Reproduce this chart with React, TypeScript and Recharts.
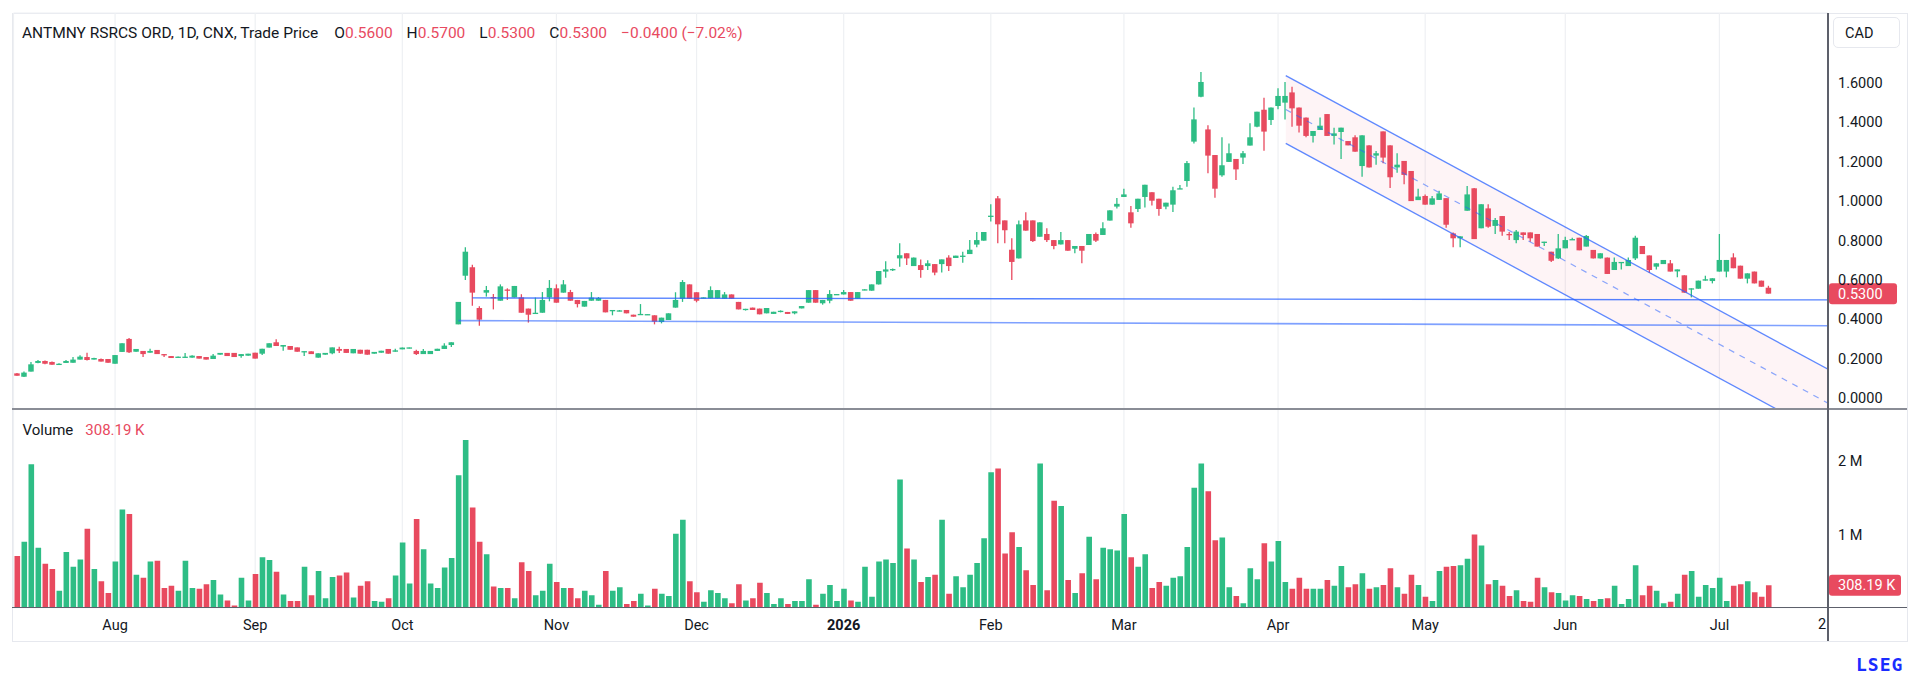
import React from 'react';
import { ComposedChart, Bar, XAxis, YAxis, CartesianGrid, ReferenceLine, Area, Cell } from 'recharts';

const GREEN = '#2ebd85';
const RED = '#e84a5f';
const BLUE = '#2962ff';
const TEXT = '#131722';
const GRID = '#eef0f3';
const FONT = 'Roboto, "Noto Sans", sans-serif';

// OHLC per trading day (CAD), Jul 2025 - Jul 2026
const opens = [
  0.125, 0.108, 0.134, 0.178, 0.188, 0.183, 0.170, 0.178, 0.179, 0.195,
  0.208, 0.195, 0.198, 0.198, 0.174, 0.234, 0.300, 0.235, 0.239, 0.230,
  0.244, 0.223, 0.213, 0.205, 0.205, 0.205, 0.213, 0.208, 0.198, 0.220,
  0.229, 0.229, 0.213, 0.215, 0.230, 0.225, 0.256, 0.283, 0.261, 0.264,
  0.257, 0.235, 0.237, 0.205, 0.220, 0.227, 0.249, 0.249, 0.227, 0.245,
  0.245, 0.225, 0.230, 0.249, 0.235, 0.247, 0.252, 0.239, 0.223, 0.223,
  0.239, 0.249, 0.269, 0.374, 0.621, 0.664, 0.457, 0.535, 0.513, 0.494,
  0.551, 0.511, 0.511, 0.454, 0.427, 0.433, 0.511, 0.557, 0.535, 0.538,
  0.498, 0.464, 0.494, 0.494, 0.498, 0.442, 0.440, 0.447, 0.423, 0.423,
  0.423, 0.420, 0.386, 0.396, 0.459, 0.504, 0.577, 0.537, 0.506, 0.506,
  0.506, 0.504, 0.526, 0.488, 0.447, 0.459, 0.454, 0.430, 0.427, 0.437,
  0.437, 0.430, 0.455, 0.484, 0.548, 0.481, 0.494, 0.523, 0.526, 0.538,
  0.504, 0.547, 0.545, 0.577, 0.642, 0.650, 0.709, 0.735, 0.670, 0.675,
  0.670, 0.680, 0.680, 0.713, 0.711, 0.720, 0.731, 0.779, 0.799, 0.921,
  1.014, 0.902, 0.753, 0.709, 0.902, 0.902, 0.819, 0.833, 0.802, 0.780,
  0.802, 0.758, 0.772, 0.777, 0.833, 0.828, 0.901, 0.972, 1.021, 0.943,
  0.960, 1.021, 1.045, 1.012, 0.972, 0.982, 1.061, 1.102, 1.302, 1.530,
  1.364, 1.234, 1.131, 1.199, 1.214, 1.221, 1.282, 1.378, 1.464, 1.412,
  1.483, 1.500, 1.552, 1.475, 1.424, 1.331, 1.361, 1.442, 1.331, 1.351,
  1.305, 1.324, 1.178, 1.283, 1.231, 1.354, 1.283, 1.171, 1.204, 1.153,
  1.005, 1.026, 0.982, 1.006, 1.015, 0.836, 0.811, 0.951, 1.065, 0.862,
  0.963, 0.874, 0.924, 0.833, 0.802, 0.841, 0.841, 0.833, 0.789, 0.743,
  0.709, 0.760, 0.802, 0.814, 0.769, 0.752, 0.709, 0.713, 0.650, 0.687,
  0.670, 0.709, 0.772, 0.724, 0.667, 0.680, 0.684, 0.643, 0.623, 0.552,
  0.555, 0.596, 0.594, 0.642, 0.642, 0.714, 0.672, 0.606, 0.642, 0.596,
  0.560,
];
const highs = [
  0.127, 0.135, 0.183, 0.193, 0.190, 0.185, 0.176, 0.193, 0.208, 0.217,
  0.230, 0.205, 0.200, 0.198, 0.218, 0.278, 0.305, 0.249, 0.239, 0.250,
  0.244, 0.223, 0.213, 0.211, 0.228, 0.217, 0.213, 0.208, 0.223, 0.229,
  0.229, 0.229, 0.223, 0.225, 0.230, 0.250, 0.278, 0.298, 0.269, 0.264,
  0.257, 0.238, 0.237, 0.227, 0.229, 0.257, 0.260, 0.249, 0.249, 0.245,
  0.245, 0.234, 0.240, 0.249, 0.250, 0.256, 0.257, 0.245, 0.249, 0.239,
  0.250, 0.278, 0.283, 0.488, 0.765, 0.677, 0.466, 0.569, 0.528, 0.577,
  0.557, 0.569, 0.527, 0.454, 0.510, 0.538, 0.599, 0.577, 0.599, 0.549,
  0.498, 0.493, 0.538, 0.513, 0.498, 0.447, 0.447, 0.447, 0.423, 0.477,
  0.426, 0.420, 0.408, 0.430, 0.537, 0.599, 0.577, 0.537, 0.511, 0.567,
  0.548, 0.538, 0.526, 0.488, 0.453, 0.459, 0.454, 0.457, 0.438, 0.445,
  0.437, 0.440, 0.467, 0.548, 0.548, 0.498, 0.548, 0.528, 0.548, 0.538,
  0.538, 0.552, 0.577, 0.645, 0.694, 0.658, 0.786, 0.735, 0.713, 0.704,
  0.700, 0.680, 0.704, 0.725, 0.723, 0.743, 0.802, 0.843, 0.843, 0.984,
  1.026, 0.902, 0.811, 0.902, 0.943, 0.902, 0.892, 0.862, 0.802, 0.843,
  0.802, 0.772, 0.772, 0.833, 0.841, 0.892, 0.953, 1.016, 1.063, 0.975,
  1.012, 1.083, 1.045, 1.012, 0.992, 1.073, 1.082, 1.204, 1.475, 1.656,
  1.385, 1.234, 1.324, 1.293, 1.214, 1.254, 1.395, 1.454, 1.525, 1.475,
  1.573, 1.605, 1.581, 1.475, 1.424, 1.356, 1.425, 1.442, 1.373, 1.373,
  1.305, 1.334, 1.334, 1.283, 1.254, 1.354, 1.283, 1.243, 1.204, 1.153,
  1.063, 1.034, 1.026, 1.053, 1.015, 0.841, 0.821, 1.077, 1.067, 0.984,
  0.984, 0.914, 0.924, 0.843, 0.853, 0.841, 0.841, 0.833, 0.794, 0.743,
  0.833, 0.819, 0.814, 0.814, 0.828, 0.752, 0.735, 0.713, 0.714, 0.691,
  0.714, 0.824, 0.772, 0.724, 0.684, 0.701, 0.701, 0.653, 0.623, 0.557,
  0.596, 0.621, 0.608, 0.833, 0.701, 0.735, 0.672, 0.633, 0.642, 0.596,
  0.570,
];
const lows = [
  0.113, 0.106, 0.134, 0.176, 0.172, 0.169, 0.168, 0.178, 0.179, 0.195,
  0.190, 0.195, 0.185, 0.179, 0.174, 0.234, 0.228, 0.235, 0.208, 0.230,
  0.223, 0.208, 0.203, 0.205, 0.205, 0.205, 0.200, 0.195, 0.198, 0.220,
  0.213, 0.208, 0.205, 0.215, 0.200, 0.218, 0.256, 0.264, 0.240, 0.245,
  0.235, 0.213, 0.223, 0.205, 0.220, 0.222, 0.228, 0.229, 0.227, 0.225,
  0.220, 0.225, 0.230, 0.225, 0.235, 0.247, 0.252, 0.218, 0.223, 0.223,
  0.239, 0.249, 0.259, 0.374, 0.599, 0.469, 0.367, 0.515, 0.450, 0.494,
  0.498, 0.511, 0.433, 0.383, 0.427, 0.433, 0.491, 0.484, 0.535, 0.494,
  0.460, 0.464, 0.494, 0.494, 0.435, 0.420, 0.440, 0.430, 0.413, 0.423,
  0.423, 0.374, 0.379, 0.396, 0.459, 0.488, 0.504, 0.486, 0.506, 0.506,
  0.506, 0.504, 0.504, 0.450, 0.444, 0.447, 0.425, 0.430, 0.427, 0.435,
  0.427, 0.425, 0.455, 0.484, 0.484, 0.474, 0.481, 0.523, 0.526, 0.494,
  0.504, 0.547, 0.545, 0.577, 0.611, 0.645, 0.667, 0.675, 0.670, 0.611,
  0.650, 0.623, 0.637, 0.645, 0.711, 0.687, 0.731, 0.765, 0.799, 0.896,
  0.786, 0.786, 0.599, 0.709, 0.850, 0.792, 0.819, 0.792, 0.755, 0.780,
  0.748, 0.735, 0.684, 0.777, 0.792, 0.828, 0.901, 0.963, 1.021, 0.865,
  0.945, 0.967, 0.977, 0.926, 0.958, 0.945, 1.061, 1.073, 1.293, 1.527,
  1.141, 1.017, 1.124, 1.199, 1.107, 1.188, 1.282, 1.375, 1.256, 1.386,
  1.466, 1.415, 1.378, 1.348, 1.324, 1.297, 1.361, 1.331, 1.288, 1.214,
  1.283, 1.251, 1.124, 1.171, 1.185, 1.192, 1.067, 1.144, 1.085, 1.000,
  1.005, 0.982, 0.982, 1.006, 0.865, 0.765, 0.765, 0.951, 0.807, 0.862,
  0.865, 0.833, 0.824, 0.802, 0.786, 0.802, 0.794, 0.769, 0.772, 0.691,
  0.706, 0.760, 0.802, 0.750, 0.769, 0.709, 0.709, 0.630, 0.650, 0.653,
  0.670, 0.701, 0.731, 0.636, 0.653, 0.680, 0.642, 0.613, 0.535, 0.511,
  0.555, 0.596, 0.582, 0.642, 0.613, 0.659, 0.606, 0.582, 0.582, 0.565,
  0.530,
];
const closes = [
  0.113, 0.129, 0.171, 0.188, 0.174, 0.169, 0.174, 0.188, 0.195, 0.210,
  0.193, 0.203, 0.185, 0.179, 0.218, 0.278, 0.232, 0.249, 0.223, 0.239,
  0.223, 0.217, 0.203, 0.210, 0.210, 0.215, 0.200, 0.195, 0.215, 0.229,
  0.213, 0.208, 0.223, 0.225, 0.200, 0.250, 0.278, 0.264, 0.269, 0.245,
  0.235, 0.238, 0.223, 0.227, 0.229, 0.257, 0.240, 0.229, 0.249, 0.225,
  0.220, 0.234, 0.240, 0.225, 0.242, 0.256, 0.257, 0.223, 0.239, 0.239,
  0.250, 0.266, 0.283, 0.488, 0.743, 0.535, 0.398, 0.548, 0.506, 0.567,
  0.546, 0.569, 0.433, 0.423, 0.433, 0.498, 0.559, 0.484, 0.577, 0.494,
  0.477, 0.493, 0.510, 0.508, 0.435, 0.447, 0.445, 0.430, 0.413, 0.427,
  0.426, 0.388, 0.408, 0.430, 0.498, 0.589, 0.504, 0.494, 0.511, 0.548,
  0.548, 0.526, 0.504, 0.450, 0.453, 0.447, 0.425, 0.457, 0.438, 0.443,
  0.427, 0.440, 0.467, 0.548, 0.484, 0.498, 0.528, 0.528, 0.538, 0.494,
  0.538, 0.552, 0.577, 0.645, 0.653, 0.655, 0.725, 0.709, 0.713, 0.650,
  0.684, 0.637, 0.704, 0.670, 0.723, 0.723, 0.753, 0.802, 0.843, 0.926,
  0.882, 0.852, 0.691, 0.882, 0.850, 0.797, 0.892, 0.802, 0.772, 0.802,
  0.748, 0.772, 0.748, 0.833, 0.799, 0.862, 0.953, 0.986, 1.034, 0.887,
  1.012, 1.083, 1.002, 0.960, 0.992, 1.055, 1.065, 1.193, 1.415, 1.605,
  1.231, 1.063, 1.182, 1.243, 1.161, 1.243, 1.324, 1.454, 1.353, 1.475,
  1.534, 1.534, 1.471, 1.383, 1.331, 1.356, 1.383, 1.331, 1.344, 1.373,
  1.283, 1.251, 1.334, 1.171, 1.243, 1.221, 1.121, 1.185, 1.133, 1.000,
  1.023, 0.982, 1.014, 1.039, 0.880, 0.811, 0.821, 1.034, 0.807, 0.984,
  0.870, 0.904, 0.845, 0.828, 0.845, 0.828, 0.811, 0.769, 0.794, 0.697,
  0.760, 0.802, 0.807, 0.750, 0.823, 0.709, 0.735, 0.630, 0.691, 0.691,
  0.701, 0.814, 0.731, 0.650, 0.684, 0.701, 0.642, 0.653, 0.535, 0.557,
  0.596, 0.603, 0.608, 0.701, 0.701, 0.659, 0.606, 0.633, 0.582, 0.565,
  0.530,
];
// Volume in millions of shares
const volumesM = [
  0.707, 0.90, 1.96, 0.82, 0.60, 0.53, 0.23, 0.76, 0.56, 0.66,
  1.08, 0.53, 0.36, 0.20, 0.63, 1.34, 1.28, 0.45, 0.41, 0.63,
  0.64, 0.27, 0.30, 0.23, 0.64, 0.27, 0.26, 0.32, 0.38, 0.18,
  0.10, 0.03, 0.41, 0.10, 0.46, 0.69, 0.65, 0.49, 0.18, 0.09,
  0.09, 0.56, 0.17, 0.50, 0.13, 0.42, 0.44, 0.48, 0.14, 0.30,
  0.36, 0.09, 0.08, 0.13, 0.44, 0.89, 0.33, 1.21, 0.80, 0.33,
  0.27, 0.55, 0.68, 1.81, 2.29, 1.37, 0.90, 0.73, 0.29, 0.27,
  0.27, 0.13, 0.62, 0.50, 0.17, 0.23, 0.60, 0.35, 0.27, 0.27,
  0.13, 0.23, 0.17, 0.04, 0.50, 0.23, 0.28, 0.05, 0.09, 0.19,
  0.03, 0.26, 0.19, 0.16, 1.01, 1.20, 0.36, 0.21, 0.08, 0.24,
  0.20, 0.13, 0.06, 0.32, 0.10, 0.13, 0.34, 0.20, 0.05, 0.13,
  0.05, 0.09, 0.09, 0.39, 0.04, 0.19, 0.31, 0.09, 0.26, 0.10,
  0.08, 0.56, 0.15, 0.63, 0.66, 0.61, 1.75, 0.81, 0.66, 0.35,
  0.42, 0.45, 1.20, 0.19, 0.43, 0.28, 0.45, 0.61, 0.95, 1.85,
  1.90, 0.74, 1.03, 0.83, 0.51, 0.31, 1.97, 0.24, 1.46, 1.39,
  0.38, 0.20, 0.47, 0.97, 0.39, 0.82, 0.80, 0.78, 1.28, 0.69,
  0.56, 0.73, 0.27, 0.35, 0.30, 0.41, 0.43, 0.83, 1.64, 1.97,
  1.59, 0.92, 0.96, 0.28, 0.16, 0.06, 0.54, 0.39, 0.88, 0.63,
  0.91, 0.35, 0.26, 0.41, 0.26, 0.26, 0.26, 0.38, 0.30, 0.57,
  0.28, 0.32, 0.47, 0.26, 0.28, 0.31, 0.54, 0.28, 0.19, 0.45,
  0.31, 0.15, 0.09, 0.50, 0.56, 0.57, 0.58, 0.67, 1.00, 0.85,
  0.32, 0.38, 0.30, 0.16, 0.24, 0.09, 0.08, 0.41, 0.28, 0.21,
  0.20, 0.10, 0.17, 0.16, 0.12, 0.09, 0.12, 0.13, 0.30, 0.05,
  0.12, 0.58, 0.17, 0.30, 0.23, 0.06, 0.08, 0.19, 0.45, 0.50,
  0.15, 0.31, 0.27, 0.41, 0.09, 0.30, 0.32, 0.36, 0.21, 0.15,
  0.30819,
];

const monthTicks = [14, 34, 55, 77, 97, 118, 139, 158, 180, 201, 221, 243];
const monthLabels = ['Aug', 'Sep', 'Oct', 'Nov', 'Dec', '2026', 'Feb', 'Mar', 'Apr', 'May', 'Jun', 'Jul'];
const edgeLabel = '2';
const priceTicks = [0, 0.2, 0.4, 0.6, 0.8, 1.0, 1.2, 1.4, 1.6, 1.8];
const volumeTicks = [1000000, 2000000];

const headerTitle = 'ANTMNY RSRCS ORD, 1D, CNX, Trade Price';
const headerFields = [
  { k: 'O', v: '0.5600' },
  { k: 'H', v: '0.5700' },
  { k: 'L', v: '0.5300' },
  { k: 'C', v: '0.5300' },
];
const headerChange = '\u22120.0400 (\u22127.02%)';
const lastPrice = 0.53;
const lastVolume = 308190;

// drawings (index, price)
const hLineHigh = [{ i: 65, p: 0.508 }, { i: 258.5, p: 0.498 }];
const hLineLow = [{ i: 63, p: 0.393 }, { i: 258.5, p: 0.367 }];
const channelUpper = [{ i: 181.1, p: 1.637 }, { i: 258.5, p: 0.146 }];
const channelMid = [{ i: 181.1, p: 1.465 }, { i: 258.5, p: -0.026 }];
const channelLower = [{ i: 181.1, p: 1.293 }, { i: 258.5, p: -0.198 }];

const data = opens.map((o, i) => ({
  i,
  o,
  h: highs[i],
  l: lows[i],
  c: closes[i],
  v: volumesM[i] * 1000000,
}));

const channelFill = channelUpper.map((pt, k) => ({ i: pt.i, band: [channelLower[k].p, pt.p] }));

const X_DOMAIN: [number, number] = [-0.5, 258.5];
const PRICE_DOMAIN: [number, number] = [-0.0559, 1.9553];
const VOL_DOMAIN: [number, number] = [0, 2714000];

const Candle = (props: any) => {
  const { x, y, width, height, payload } = props;
  if (!payload || x == null) return null;
  const { o, h, l, c } = payload;
  const color = c >= o ? GREEN : RED;
  const cx = x + width / 2;
  const yTop = Math.min(y, y + height);
  const yBot = Math.max(y, y + height);
  const range = h - l;
  const ppu = range > 0 ? (yBot - yTop) / range : 0;
  const yO = yTop + (h - o) * ppu;
  const yC = yTop + (h - c) * ppu;
  const bTop = Math.min(yO, yC);
  const bH = Math.max(Math.abs(yO - yC), 1.3);
  return (
    <g>
      <line x1={cx} x2={cx} y1={yTop} y2={yBot} stroke={color} strokeWidth={1.3} />
      <rect x={cx - 2.75} y={bTop} width={5.5} height={bH} fill={color} />
    </g>
  );
};

const Tag = (props: any) => {
  const { viewBox, text, w } = props;
  if (!viewBox) return null;
  const x = viewBox.x + viewBox.width + 1;
  const y = viewBox.y;
  return (
    <g>
      <rect x={x} y={y - 10.5} width={w} height={21} rx={3} fill={RED} />
      <text x={x + 9} y={y} dy="0.36em" fill="#ffffff" fontSize={14.5} fontFamily={FONT}>
        {text}
      </text>
    </g>
  );
};

const XTick = (props: any) => {
  const { x, y, payload } = props;
  const idx = monthTicks.indexOf(payload.value);
  const label = idx >= 0 ? monthLabels[idx] : '';
  return (
    <text
      x={x}
      y={y + 9}
      dy="0.35em"
      textAnchor="middle"
      fontSize={14.5}
      fontFamily={FONT}
      fontWeight={label === '2026' ? 700 : 400}
      fill={TEXT}
    >
      {label}
    </text>
  );
};

const seg = (pts: { i: number; p: number }[]) => pts.map((pt) => ({ x: pt.i, y: pt.p }));

export default function App() {
  return (
    <div
      style={{
        position: 'absolute',
        left: 0,
        top: 0,
        width: 1920,
        height: 681,
        background: '#ffffff',
        fontFamily: FONT,
        overflow: 'hidden',
      }}
    >
      {/* frame */}
      <div
        style={{
          position: 'absolute',
          left: 12,
          top: 13,
          width: 1894,
          height: 627,
          border: '1px solid #e6e8ee',
        }}
      />

      {/* price pane */}
      <div style={{ position: 'absolute', left: 0, top: 0 }}>
        <ComposedChart
          width={1920}
          height={409}
          data={data}
          margin={{ top: 13, right: 13, bottom: 0, left: 13.5 }}
        >
          <CartesianGrid stroke={GRID} strokeWidth={1.2} />
          <XAxis
            dataKey="i"
            type="number"
            domain={X_DOMAIN}
            ticks={monthTicks}
            allowDataOverflow
            hide
            height={0}
          />
          <YAxis
            yAxisId="p"
            orientation="right"
            domain={PRICE_DOMAIN}
            ticks={priceTicks}
            allowDataOverflow
            width={79}
            axisLine={false}
            tickLine={false}
            tickMargin={4}
            tick={{ fontSize: 14.5, fill: TEXT, fontFamily: FONT }}
            tickFormatter={(v: number) => (v > 1.7 ? '' : v.toFixed(4))}
          />
          <Area
            yAxisId="p"
            data={channelFill}
            dataKey="band"
            type="linear"
            stroke="none"
            fill={RED}
            fillOpacity={0.06}
            isAnimationActive={false}
          />
          <ReferenceLine yAxisId="p" segment={seg(hLineHigh)} stroke={BLUE} strokeOpacity={0.8} strokeWidth={1.3} ifOverflow="hidden" />
          <ReferenceLine yAxisId="p" segment={seg(hLineLow)} stroke={BLUE} strokeOpacity={0.6} strokeWidth={1.6} ifOverflow="hidden" />
          <ReferenceLine yAxisId="p" segment={seg(channelUpper)} stroke={BLUE} strokeOpacity={0.75} strokeWidth={1.3} ifOverflow="hidden" />
          <ReferenceLine yAxisId="p" segment={seg(channelLower)} stroke={BLUE} strokeOpacity={0.75} strokeWidth={1.3} ifOverflow="hidden" />
          <ReferenceLine yAxisId="p" segment={seg(channelMid)} stroke={BLUE} strokeOpacity={0.55} strokeWidth={1.2} strokeDasharray="6 6" ifOverflow="hidden" />
          <Bar
            yAxisId="p"
            dataKey={(d: any) => [d.l, d.h]}
            barSize={6}
            shape={<Candle />}
            isAnimationActive={false}
          />
          <ReferenceLine
            yAxisId="p"
            y={lastPrice}
            stroke="transparent"
            label={<Tag text={lastPrice.toFixed(4)} w={68} />}
          />
        </ComposedChart>
      </div>

      {/* volume pane */}
      <div style={{ position: 'absolute', left: 0, top: 409 }}>
        <ComposedChart
          width={1920}
          height={232}
          data={data}
          margin={{ top: 0, right: 13, bottom: 0, left: 13.5 }}
        >
          <CartesianGrid stroke={GRID} strokeWidth={1.2} />
          <XAxis
            dataKey="i"
            type="number"
            domain={X_DOMAIN}
            ticks={monthTicks}
            allowDataOverflow
            height={33.3}
            axisLine={false}
            tickLine={false}
            tick={<XTick />}
            interval={0}
          />
          <YAxis
            yAxisId="v"
            orientation="right"
            domain={VOL_DOMAIN}
            ticks={volumeTicks}
            allowDataOverflow
            width={79}
            axisLine={false}
            tickLine={false}
            tickMargin={4}
            tick={{ fontSize: 14.5, fill: TEXT, fontFamily: FONT }}
            tickFormatter={(v: number) => `${v / 1000000} M`}
          />
          <Bar yAxisId="v" dataKey="v" barSize={5.6} isAnimationActive={false}>
            {data.map((d) => (
              <Cell key={d.i} fill={d.c >= d.o ? GREEN : RED} />
            ))}
          </Bar>
          <ReferenceLine
            yAxisId="v"
            y={lastVolume}
            stroke="transparent"
            label={<Tag text={`${(lastVolume / 1000).toFixed(2)} K`} w={72} />}
          />
        </ComposedChart>
      </div>

      {/* pane separators and axis lines */}
      <div style={{ position: 'absolute', left: 12, top: 408.2, width: 1895, height: 1.6, background: '#8a8d96' }} />
      <div style={{ position: 'absolute', left: 12, top: 607, width: 1895, height: 1.4, background: '#5d606b' }} />
      <div style={{ position: 'absolute', left: 1827.4, top: 13, width: 1.4, height: 628, background: '#5d606b' }} />

      {/* right-edge date label (partly hidden under the price scale in the original) */}
      <div style={{ position: 'absolute', left: 1818, top: 616, fontSize: 14.5, color: TEXT, whiteSpace: 'nowrap', lineHeight: '18px' }}>
        {edgeLabel}
      </div>

      {/* header legend */}
      <div
        style={{
          position: 'absolute',
          left: 22,
          top: 24,
          fontSize: 15.5,
          color: TEXT,
          whiteSpace: 'nowrap',
          lineHeight: '18px',
        }}
      >
        <span>{headerTitle}</span>
        {headerFields.map((f, k) => (
          <span key={f.k} style={{ marginLeft: k === 0 ? 16 : 14 }}>
            {f.k}
            <span style={{ color: RED }}>{f.v}</span>
          </span>
        ))}
        <span style={{ marginLeft: 14, color: RED }}>{headerChange}</span>
      </div>

      {/* currency box */}
      <div
        style={{
          position: 'absolute',
          left: 1833,
          top: 17,
          width: 67,
          height: 31,
          border: '1px solid #e6e8ee',
          borderRadius: 5,
          fontSize: 14.5,
          color: TEXT,
          lineHeight: '31px',
          paddingLeft: 11,
          boxSizing: 'border-box',
          background: '#fff',
        }}
      >
        CAD
      </div>

      {/* volume legend */}
      <div style={{ position: 'absolute', left: 22.5, top: 421, fontSize: 15, color: TEXT, whiteSpace: 'nowrap', lineHeight: '18px' }}>
        Volume<span style={{ marginLeft: 12, color: RED }}>{`${(lastVolume / 1000).toFixed(2)} K`}</span>
      </div>

      {/* logo */}
      <div
        style={{
          position: 'absolute',
          left: 1856,
          top: 654,
          fontSize: 18,
          fontWeight: 700,
          color: '#1a2cff',
          fontFamily: '"DejaVu Sans Mono", monospace',
          letterSpacing: 1,
        }}
      >
        LSEG
      </div>
    </div>
  );
}
